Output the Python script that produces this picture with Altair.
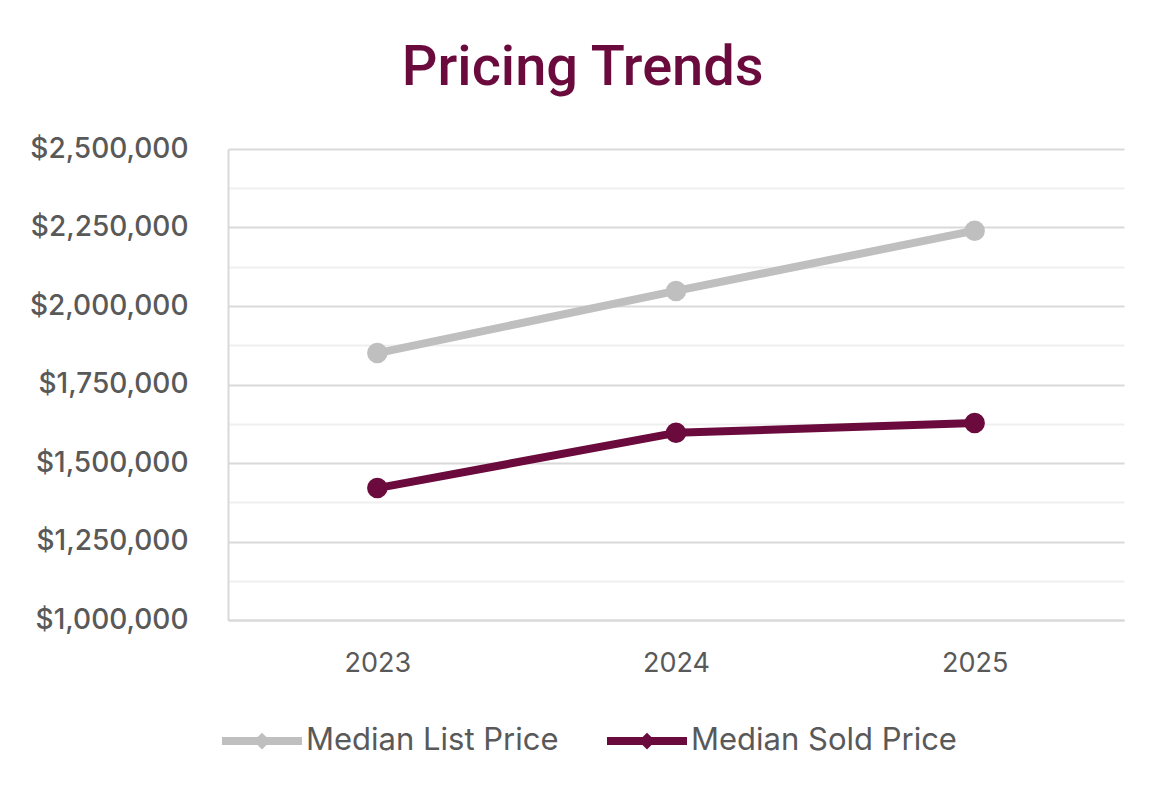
import altair as alt
import pandas as pd

years = ["2023", "2024", "2025"]
list_price = [1850000, 2048000, 2240000]
sold_price = [1420000, 1596000, 1627000]
series = ["Median List Price", "Median Sold Price"]
colors = ["#BFBFBF", "#6B0A3C"]
y_ticks = list(range(1000000, 2500001, 125000))

rows = []
for yr, v in zip(years, list_price):
    rows.append({"Year": yr, "Series": series[0], "Price": v})
for yr, v in zip(years, sold_price):
    rows.append({"Year": yr, "Series": series[1], "Price": v})
df = pd.DataFrame(rows)

FONT = "Inter"
TXT = "#595959"

legend_path = "M-1,0L1,0M-0.07,0L0,-0.07L0.07,0L0,0.07Z"

color = alt.Color(
    "Series:N",
    scale=alt.Scale(domain=series, range=colors),
    legend=alt.Legend(
        title=None,
        orient="none",
        direction="horizontal",
        legendX=-10,
        legendY=548,
        symbolType=legend_path,
        symbolSize=6400,
        symbolStrokeWidth=8,
        symbolOpacity=1,
        labelFont=FONT,
        labelFontSize=31,
        labelColor=TXT,
        labelOffset=0,
        labelLimit=500,
        columnPadding=32,
    ),
)

base = alt.Chart(df).encode(
    x=alt.X(
        "Year:O",
        scale=alt.Scale(type="point", padding=0.5),
        axis=alt.Axis(
            title=None,
            labelAngle=0,
            labelFont=FONT,
            labelFontSize=27,
            labelColor=TXT,
            labelPadding=30,
            ticks=False,
            domainColor="#d9d9d9",
            domainWidth=2,
            grid=False,
        ),
    ),
    y=alt.Y(
        "Price:Q",
        scale=alt.Scale(domain=[1000000, 2500000], nice=False, zero=False),
        axis=alt.Axis(
            title=None,
            values=y_ticks,
            labelExpr="datum.value % 250000 === 0 ? format(datum.value, '$,.0f') : ''",
            labelFont=FONT,
            labelFontSize=28,
            labelFontWeight=500,
            labelColor=TXT,
            labelPadding=40,
            ticks=False,
            domainColor="#d9d9d9",
            domainWidth=2,
            grid=True,
            gridColor={"condition": {"test": "datum.value % 250000 === 0", "value": "#d9d9d9"}, "value": "#efefef"},
            gridWidth=2,
        ),
    ),
    color=color,
)

line = base.mark_line(strokeWidth=8, strokeCap="round", strokeJoin="round")
pts = base.mark_point(filled=True, size=420, opacity=1)

chart = alt.layer(line, pts).properties(
    width=896,
    height=471,
    title=alt.Title(
        "Pricing Trends",
        font="Roboto",
        fontSize=56,
        fontWeight=500,
        color="#6B0A3C",
        anchor="middle",
        frame="bounds",
        offset=38,
        dx=6,
    ),
    padding={"left": 21, "top": 32, "right": 42, "bottom": 30},
    background="white",
).configure_view(stroke=None)

chart.save("out.html", embed_options={"renderer": "svg", "actions": False})
